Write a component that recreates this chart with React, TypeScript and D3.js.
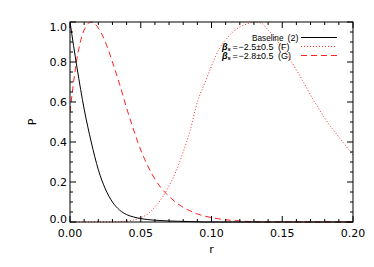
import * as d3 from "d3";

// radius grid (step 0.005) and curve values
const rValues = d3.range(0, 41).map((i) => +(i * 0.005).toFixed(3));

const baseline = [
  1.0, 0.77, 0.565, 0.4, 0.262, 0.165, 0.1, 0.06, 0.037, 0.025, 0.017, 0.012, 0.009, 0.007,
  0.005, 0.004, 0.003, 0.002, 0.001, 0, 0, 0, 0, 0, 0, 0, 0, 0, 0, 0, 0, 0, 0, 0, 0, 0, 0, 0,
  0, 0, 0,
];

const fitF = [
  0, 0, 0, 0, 0, 0, 0, 0.001, 0.004, 0.01, 0.022, 0.04, 0.075, 0.12, 0.18, 0.255, 0.35, 0.46,
  0.6, 0.69, 0.78, 0.86, 0.91, 0.95, 0.975, 0.99, 1.0, 0.995, 0.96, 0.92, 0.87, 0.82, 0.76,
  0.7, 0.635, 0.575, 0.52, 0.47, 0.425, 0.38, 0.335,
];

const fitG = [
  0.55, 0.82, 0.96, 1.0, 0.97, 0.9, 0.8, 0.69, 0.57, 0.46, 0.36, 0.28, 0.215, 0.165, 0.128,
  0.097, 0.073, 0.055, 0.04, 0.03, 0.022, 0.016, 0.011, 0.008, 0.005, 0.003, 0.002, 0, 0, 0, 0,
  0, 0, 0, 0, 0, 0, 0, 0, 0, 0,
];

const xTicks = [0, 0.05, 0.1, 0.15, 0.2];
const yTicks = [0, 0.2, 0.4, 0.6, 0.8, 1.0];

const legendRows = [
  { name: "Baseline", value: "", tag: "(2)", beta: false },
  { name: "", value: "\u22122.5\u00b10.5", tag: "(F)", beta: true },
  { name: "", value: "\u22122.8\u00b10.5", tag: "(G)", beta: true },
];

const width = 374;
const height = 267;
const margin = { left: 70, right: 21, top: 22, bottom: 45 };
const FONT = "'DejaVu Sans', sans-serif";
const LEGEND_FONT = "'Liberation Sans', Arial, sans-serif";

export default function App() {
  const x = d3.scaleLinear().domain([0, 0.2]).range([margin.left, width - margin.right]);
  const y = d3.scaleLinear().domain([0, 1]).range([height - margin.bottom, margin.top]);
  const [x0, x1] = x.range();
  const [y0, y1] = y.range();

  const line = (vals: number[]) =>
    d3
      .line<number>()
      .x((_, i) => x(rValues[i]))
      .y((v) => y(v))
      .curve(d3.curveMonotoneX)(vals) || "";

  const xMinor = d3.range(0, 21).map((i) => i * 0.01);
  const yMinor = d3.range(0, 21).map((i) => i * 0.05);

  const styles = [
    { color: "#000", dash: null as string | null },
    { color: "#ff3030", dash: "1,2" },
    { color: "#ff2020", dash: "6,4" },
  ];

  return (
    <svg
      width={width}
      height={height}
      style={{ position: "absolute", left: 0, top: 0, background: "#fff" }}
    >
      <defs>
        <clipPath id="plot">
          <rect x={x0} y={y1 - 1} width={x1 - x0} height={y0 - y1 + 2} />
        </clipPath>
      </defs>

      <g clipPath="url(#plot)" fill="none">
        <path d={line(fitF)} stroke={styles[1].color} strokeWidth={1} strokeDasharray="1,2" />
        <path d={line(fitG)} stroke={styles[2].color} strokeWidth={1} strokeDasharray="6,4" />
        <path d={line(baseline)} stroke="#000" strokeWidth={1} />
      </g>

      {/* frame */}
      <rect x={x0} y={y1} width={x1 - x0} height={y0 - y1} fill="none" stroke="#000" strokeWidth={1} />

      {/* x ticks, bottom and top */}
      {xMinor.map((t, i) => {
        const len = i % 5 === 0 ? 6 : 3;
        const px = x(t);
        return (
          <g key={`xt${i}`} stroke="#000" strokeWidth={1}>
            <line x1={px} x2={px} y1={y0} y2={y0 - len} />
            <line x1={px} x2={px} y1={y1} y2={y1 + len} />
          </g>
        );
      })}
      {/* y ticks, left and right */}
      {yMinor.map((t, i) => {
        const len = i % 4 === 0 ? 6 : 3;
        const py = y(t);
        return (
          <g key={`yt${i}`} stroke="#000" strokeWidth={1}>
            <line x1={x0} x2={x0 + len} y1={py} y2={py} />
            <line x1={x1} x2={x1 - len} y1={py} y2={py} />
          </g>
        );
      })}

      {xTicks.map((t) => (
        <text key={`xl${t}`} x={x(t)} y={237} textAnchor="middle" fontFamily={FONT} fontSize={11} fill="#000">
          {d3.format(".2f")(t)}
        </text>
      ))}
      {yTicks.map((t) => (
        <text
          key={`yl${t}`}
          x={x0 - 3}
          y={Math.min(Math.max(y(t), 27), 219) + 4}
          textAnchor="end"
          fontFamily={FONT}
          fontSize={11}
          fill="#000"
        >
          {d3.format(".1f")(t)}
        </text>
      ))}

      <text x={(x0 + x1) / 2} y={253} textAnchor="middle" fontFamily={FONT} fontSize={11}>
        r
      </text>
      <text
        transform={`translate(36,${(y0 + y1) / 2}) rotate(-90)`}
        textAnchor="middle"
        fontFamily={FONT}
        fontSize={11}
      >
        P
      </text>

      {/* legend */}
      {legendRows.map((d, i) => {
        const ly = 37.5 + i * 9;
        const st = styles[i];
        return (
          <g key={`lg${i}`} fontFamily={LEGEND_FONT} fontSize={9} fill="#000">
            {d.beta ? (
              <>
                <text x={222} y={ly + 3} fontWeight="bold" fontStyle="italic">
                  β
                  <tspan fontSize={6} dy={1.5}>
                    s
                  </tspan>
                </text>
                <text x={232.5} y={ly + 3}>
                  =
                </text>
                <text x={238.5} y={ly + 3} textLength={35} lengthAdjust="spacingAndGlyphs">
                  {d.value}
                </text>
              </>
            ) : (
              <text x={252} y={ly + 3} textLength={31.5} lengthAdjust="spacingAndGlyphs">
                {d.name}
              </text>
            )}
            <text x={d.beta ? 278 : 287.5} y={ly + 3}>
              {d.tag}
            </text>
            <line
              x1={301}
              x2={337}
              y1={ly}
              y2={ly}
              stroke={st.color}
              strokeWidth={1}
              strokeDasharray={st.dash || undefined}
            />
          </g>
        );
      })}
    </svg>
  );
}
